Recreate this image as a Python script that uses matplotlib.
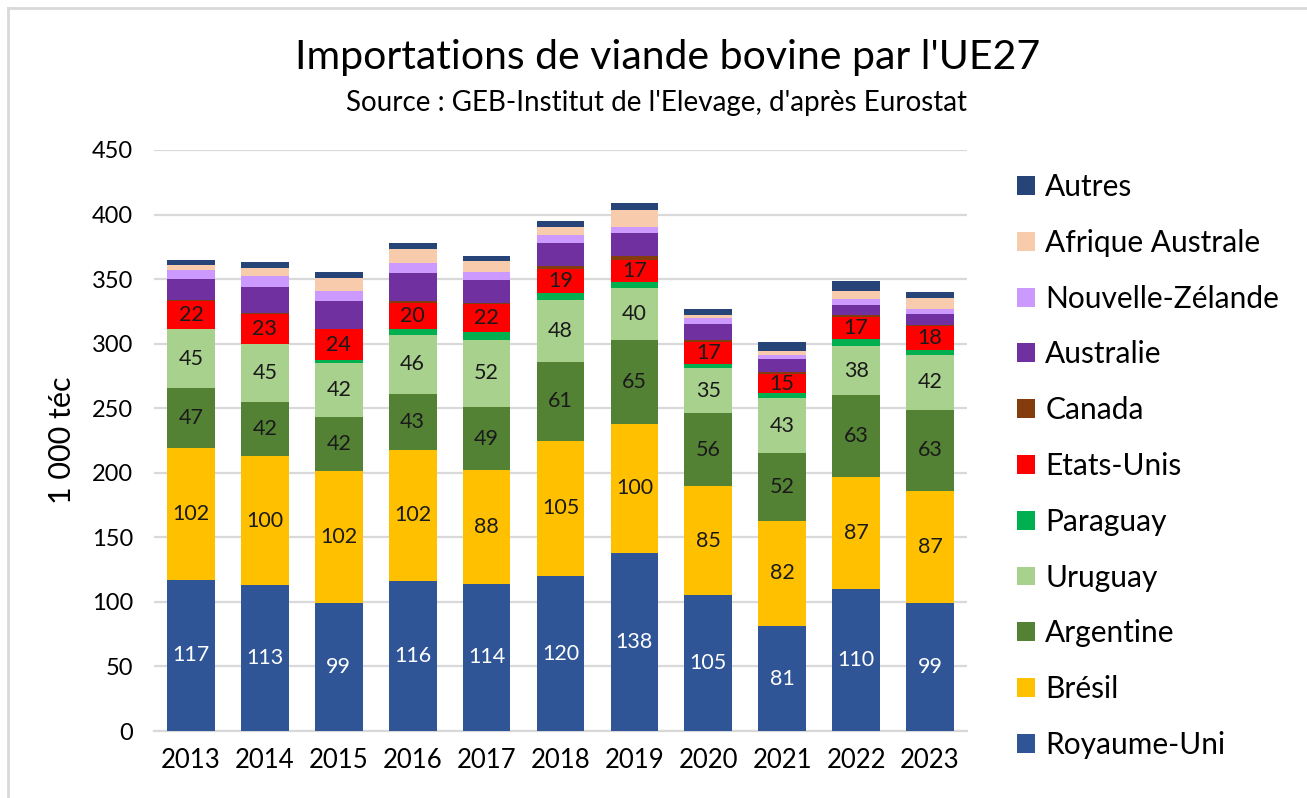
import matplotlib.pyplot as plt
import numpy as np
from matplotlib.lines import Line2D

years = ["2013", "2014", "2015", "2016", "2017", "2018", "2019", "2020", "2021", "2022", "2023"]

royaume_uni = [117, 113, 99, 116, 114, 120, 138, 105, 81, 110, 99]
bresil = [102, 100, 102, 102, 88, 105, 100, 85, 82, 87, 87]
argentine = [47, 42, 42, 43, 49, 61, 65, 56, 52, 63, 63]
uruguay = [45, 45, 42, 46, 52, 48, 40, 35, 43, 38, 42]
paraguay = [0, 0, 2, 4.6, 6, 5, 5, 3.5, 3.5, 5.5, 4.4]
etats_unis = [22, 23, 24, 20, 22, 19, 17, 17, 15, 17, 18]
canada = [0.5, 1, 0.3, 1.2, 0.8, 1.8, 3, 1.3, 1.5, 1.5, 0.7]
australie = [16.4, 20.2, 22, 21.7, 17.5, 17.9, 17.5, 12.2, 9.9, 8.3, 8.9]
nouvelle_zelande = [7.4, 8.5, 7.3, 8.2, 6.2, 6.5, 5.1, 5.2, 3.3, 4.1, 3.6]
afrique_australe = [3.6, 5.7, 10, 10.3, 8.3, 6.4, 13, 1.8, 3.1, 6.5, 9]
autres = [3.6, 4.6, 4.7, 4.7, 3.9, 4.7, 5.6, 4.6, 6.8, 7.7, 4.7]

series = [
    ("Royaume-Uni", royaume_uni, "#2F5597", "white"),
    ("Brésil", bresil, "#FFC000", "#1a1a1a"),
    ("Argentine", argentine, "#548235", "#1a1a1a"),
    ("Uruguay", uruguay, "#A9D18E", "#1a1a1a"),
    ("Paraguay", paraguay, "#00B050", None),
    ("Etats-Unis", etats_unis, "#FF0000", "#1a1a1a"),
    ("Canada", canada, "#843C0C", None),
    ("Australie", australie, "#7030A0", None),
    ("Nouvelle-Zélande", nouvelle_zelande, "#CC99FF", None),
    ("Afrique Australe", afrique_australe, "#F8CBAD", None),
    ("Autres", autres, "#264478", None),
]

plt.rcParams["font.family"] = ["Lato", "DejaVu Sans"]

fig = plt.figure(figsize=(13.07, 7.98), dpi=100)
ax = fig.add_axes([154 / 1307, 1 - 731 / 798, (967 - 154) / 1307, (731 - 150) / 798])

x = np.arange(len(years))
bottom = np.zeros(len(years))
handles = []
for name, vals, color, txt in series:
    bars = ax.bar(x, vals, width=0.645, bottom=bottom, color=color, label=name,
                  linewidth=0, zorder=3)
    if txt is not None:
        ax.bar_label(bars, fmt="%.0f", label_type="center", color=txt, fontsize=15.5)
    bottom += np.array(vals)
    handles.append(bars)

ax.set_xlim(-0.5, len(years) - 0.5)
ax.set_ylim(0, 450)
ax.set_yticks(range(0, 451, 50))
ax.set_xticks(x)
ax.set_xticklabels(years, fontsize=18.5)
ax.tick_params(axis="y", labelsize=17, length=0, pad=15)
ax.tick_params(axis="x", length=0, pad=12)
ax.grid(axis="y", color="#d9d9d9", linewidth=1.6, zorder=0)
for s in ["top", "right", "left"]:
    ax.spines[s].set_visible(False)
ax.spines["bottom"].set_color("#d9d9d9")
ax.spines["bottom"].set_linewidth(1.6)

fig.text(62 / 1307, 1 - 440 / 798, "1 000 téc", rotation=90, fontsize=22,
         ha="center", va="center")
fig.text(0.511, 1 - 58 / 798, "Importations de viande bovine par l'UE27", fontsize=29.5,
         ha="center", va="center")
fig.text(0.502, 1 - 103 / 798, "Source : GEB-Institut de l'Elevage, d'après Eurostat",
         fontsize=20, ha="center", va="center")

leg = ax.legend(handles[::-1], [s[0] for s in series][::-1], loc="center left",
                bbox_to_anchor=(1005 / 1307, 1 - 466 / 798), bbox_transform=fig.transFigure,
                frameon=False, fontsize=21.5, handlelength=0.6, handleheight=0.6,
                handletextpad=0.35, labelspacing=0.93, borderaxespad=0)

fig.add_artist(Line2D([8 / 1307, 1], [1 - 8 / 798, 1 - 8 / 798], color="#d9d9d9", linewidth=2))
fig.add_artist(Line2D([8 / 1307, 8 / 1307], [0, 1 - 8 / 798], color="#d9d9d9", linewidth=2))

fig.savefig("out.png", dpi=100)
